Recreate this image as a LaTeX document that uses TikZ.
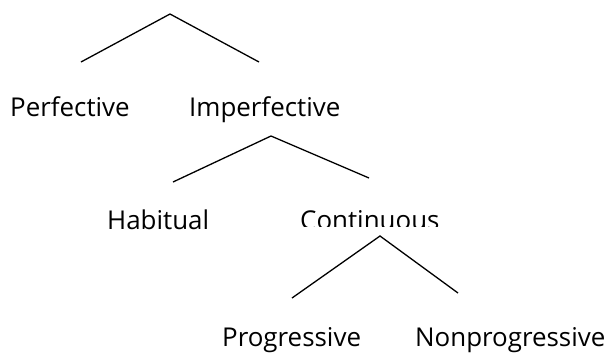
\documentclass[tikz,border=0pt]{standalone}
\usepackage{fontspec}
\setmainfont{Open Sans}
\begin{document}
\begin{tikzpicture}[x=1bp,y=-1bp,
  lbl/.style={anchor=base west,inner sep=0pt,font=\fontsize{26}{30}\selectfont},
  branch/.style={line width=1.3bp,line cap=butt,line join=miter}]
\useasboundingbox (0,0) rectangle (610,352);
% level 1
\coordinate (r0) at (170,14);
\coordinate (r0l) at (81,62);
\coordinate (r0r) at (259,62);
\draw[branch] (r0l) -- (r0) -- (r0r);
\node[lbl] (perf) at (10,116) {Perfective};
\node[lbl] (imperf) at (189,116) {Imperfective};
% level 2
\coordinate (r1) at (271,136);
\coordinate (r1l) at (173,182);
\coordinate (r1r) at (369,178);
\draw[branch] (r1l) -- (r1) -- (r1r);
\node[lbl] (hab) at (107,229) {Habitual};
\begin{scope}
\clip (280,200) rectangle (460,226.5);
\node[lbl] (cont) at (300,229) {Continuous};
\end{scope}
% level 3
\coordinate (r2) at (380,236);
\coordinate (r2l) at (292,298);
\coordinate (r2r) at (458,293);
\draw[branch] (r2l) -- (r2) -- (r2r);
\node[lbl] (prog) at (222,346) {Progressive};
\node[lbl] (nonprog) at (415,346) {Nonprogressive};
\end{tikzpicture}
\end{document}
